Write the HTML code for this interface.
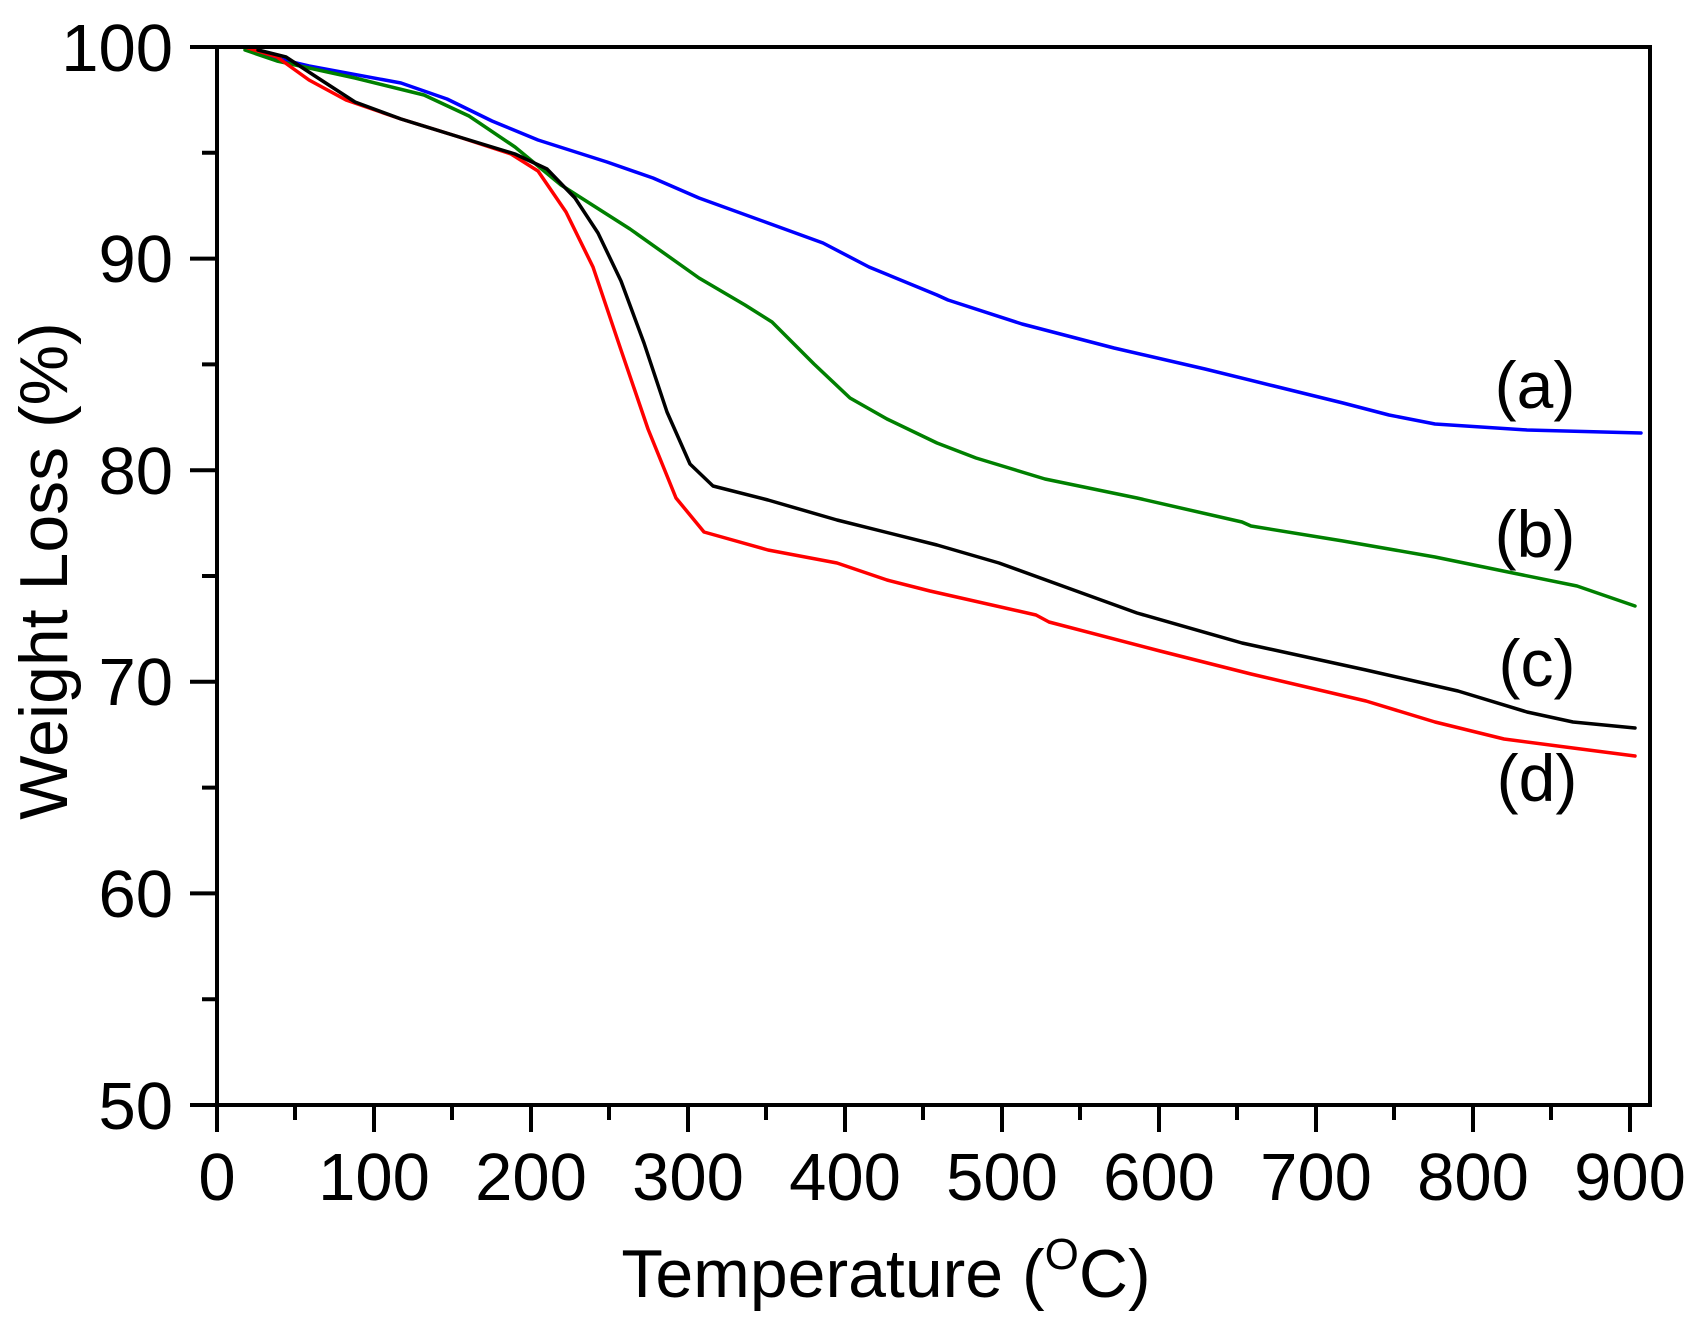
<!DOCTYPE html>
<html><head><meta charset="utf-8"><style>html,body{margin:0;padding:0;background:#fff}</style></head>
<body>
<svg width="1701" height="1326" viewBox="0 0 1701 1326" xmlns="http://www.w3.org/2000/svg" font-family="Liberation Sans, Arial, sans-serif">
<rect width="1701" height="1326" fill="#fff"/>
<g fill="none" stroke-linejoin="round" stroke-linecap="round" stroke-width="3.5">
<polyline stroke="#0000ff" points="245,47 258,54 309,66 401,83 447,99 492,121 538,140 607,162 653,178 699,198 768,223 823,243 869,267 937,295 948,300 1022,324 1114,348 1205,369 1274,386 1343,403 1389,415 1435,424 1527,430 1641,433"/>
<polyline stroke="#008000" points="245,50 277,61 355,78 424,95 469,116 515,147 561,185 630,229 699,278 745,305 772,322 814,364 850,398 887,419 937,443 976,458 1045,479 1137,498 1242,522 1251,526 1343,541 1435,557 1508,572 1577,586 1635,606"/>
<polyline stroke="#ff0000" points="245,47 277,57 309,80 346,100 401,119 456,136 511,154 538,171 566,212 593,267 621,350 648,429 676,498 704,532 768,550 837,563 887,580 930,591 1036,615 1049,622 1160,651 1251,674 1366,701 1435,722 1504,739 1573,748 1635,756"/>
<polyline stroke="#000000" points="258,50 286,57 318,78 355,102 401,119 456,136 515,154 547,169 575,198 598,233 621,281 644,343 667,412 690,464 713,486 768,500 837,520 937,545 999,563 1068,588 1137,613 1242,643 1366,670 1458,691 1527,712 1573,722 1635,728"/>
</g>
<g stroke="#000" stroke-width="4" fill="none">
<rect x="217" y="47" width="1433" height="1058"/>
<path d="M217,1105v27 M374,1105v27 M531,1105v27 M688,1105v27 M845,1105v27 M1002,1105v27 M1159,1105v27 M1316,1105v27 M1473,1105v27 M1630,1105v27"/>
<path d="M295,1105v15 M452,1105v15 M609,1105v15 M766,1105v15 M923,1105v15 M1080,1105v15 M1237,1105v15 M1394,1105v15 M1551,1105v15"/>
<path d="M190,47h27 M190,258.6h27 M190,470.2h27 M190,681.8h27 M190,893.4h27 M190,1105h27"/>
<path d="M202,152.8h15 M202,364.4h15 M202,576h15 M202,787.6h15 M202,999.2h15"/>
</g>
<g font-size="67" fill="#000" text-anchor="end">
<text x="173" y="71">100</text>
<text x="173" y="282">90</text>
<text x="173" y="494">80</text>
<text x="173" y="705">70</text>
<text x="173" y="917">60</text>
<text x="173" y="1129">50</text>
</g>
<g font-size="67" fill="#000" text-anchor="middle">
<text x="217" y="1200">0</text>
<text x="374" y="1200">100</text>
<text x="531" y="1200">200</text>
<text x="688" y="1200">300</text>
<text x="845" y="1200">400</text>
<text x="1002" y="1200">500</text>
<text x="1159" y="1200">600</text>
<text x="1316" y="1200">700</text>
<text x="1473" y="1200">800</text>
<text x="1630" y="1200">900</text>
</g>
<text x="886" y="1297" font-size="68" text-anchor="middle">Temperature (<tspan font-size="44" dy="-28">O</tspan><tspan dy="28">C)</tspan></text>
<text transform="translate(67,571) rotate(-90)" font-size="68" text-anchor="middle">Weight Loss (%)</text>
<g font-size="66" text-anchor="middle">
<text x="1535" y="408">(a)</text>
<text x="1535" y="557">(b)</text>
<text x="1537" y="686">(c)</text>
<text x="1537" y="801">(d)</text>
</g>
</svg>
</body></html>
